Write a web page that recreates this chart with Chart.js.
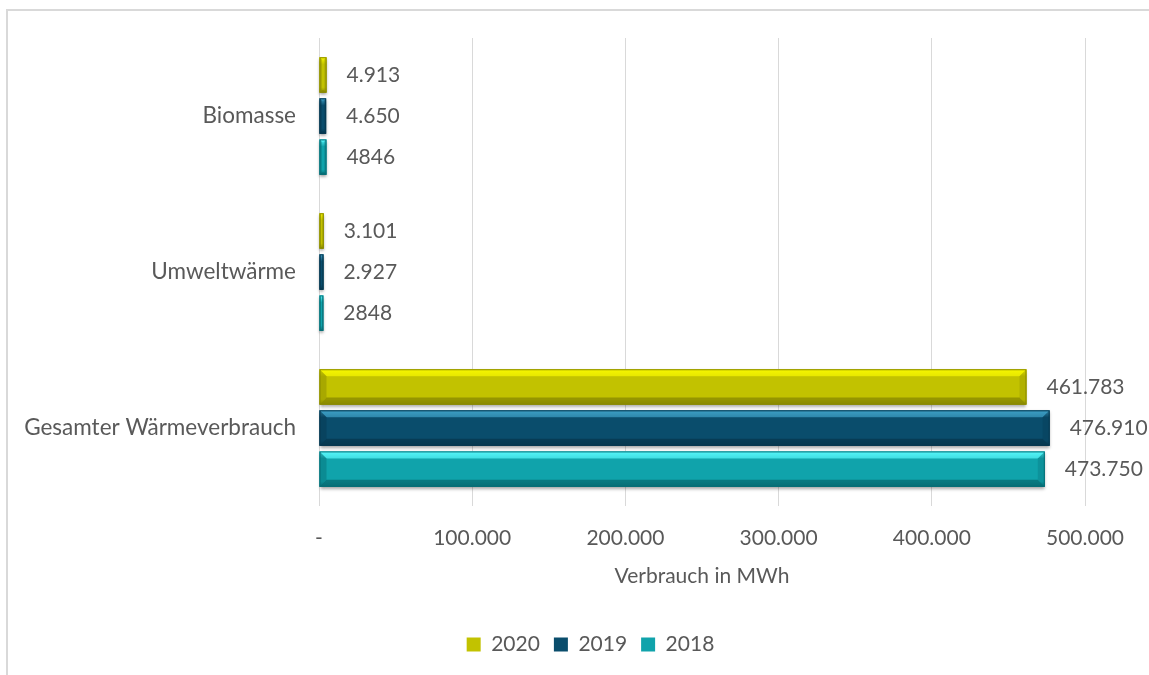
<!DOCTYPE html>
<html lang="de">
<head>
<meta charset="utf-8">
<title>Wärmeverbrauch</title>
<script src="https://cdn.jsdelivr.net/npm/chart.js@4"></script>
<style>
  html, body { margin: 0; padding: 0; background: #fff; }
  .chart-box { position: relative; width: 1149px; height: 675px; }
</style>
</head>
<body>
<div class="chart-box"><canvas id="heatChart"></canvas></div>
<script>
// chart data
var categories = ['Biomasse', 'Umweltwärme', 'Gesamter Wärmeverbrauch'];
var years = ['2020', '2019', '2018'];
var values2020 = [4913, 3101, 461783];
var values2019 = [4650, 2927, 476910];
var values2018 = [4846, 2848, 473750];
var labels2020 = ['4.913', '3.101', '461.783'];
var labels2019 = ['4.650', '2.927', '476.910'];
var labels2018 = ['4846', '2848', '473.750'];
var xTicks = [0, 100000, 200000, 300000, 400000, 500000];
var xTickLabels = ['-', '100.000', '200.000', '300.000', '400.000', '500.000'];
var axisTitle = 'Verbrauch in MWh';

var textColor = '#595959';
var fontFamily = 'Lato, "Open Sans", sans-serif';

// base / light / dark shade for the bevel look
var palette = [
  { base: '#c2c200', light: '#f6f600', dark: '#8a8a00' },
  { base: '#0a4d6c', light: '#3d9fc6', dark: '#063850' },
  { base: '#10a3ab', light: '#55f6fa', dark: '#076e76' }
];
var dataLabels = [labels2020, labels2019, labels2018];

// light grey frame round the chart
var framePlugin = {
  id: 'frame',
  beforeDraw: function(chart) {
    var ctx = chart.ctx;
    ctx.save();
    ctx.strokeStyle = '#d9d9d9';
    ctx.lineWidth = 2;
    ctx.strokeRect(7, 10, 1300, 800);
    ctx.restore();
  }
};

// legend sits a bit right of the canvas centre
var legendShift = {
  id: 'legendShift',
  afterLayout: function(chart) {
    chart.legend.left += 48;
    chart.legend.right += 48;
  }
};

// repaint each bar with a bevel
var bevelPlugin = {
  id: 'bevel',
  afterDatasetDraw: function(chart, args) {
    var ctx = chart.ctx;
    var pal = palette[args.index];
    args.meta.data.forEach(function(bar) {
      var p = bar.getProps(['x', 'y', 'base', 'height'], true);
      var x0 = Math.min(p.base, p.x), x1 = Math.max(p.base, p.x);
      var y0 = p.y - p.height / 2, y1 = p.y + p.height / 2;
      var w = x1 - x0, h = y1 - y0;
      var b = Math.min(7, w / 3, h / 3);

      ctx.save();
      ctx.shadowColor = 'rgba(0,0,0,0.35)';
      ctx.shadowBlur = 3;
      ctx.shadowOffsetY = 2;
      var g = ctx.createLinearGradient(0, y0, 0, y1);
      g.addColorStop(0, pal.light);
      g.addColorStop(0.2, pal.base);
      g.addColorStop(0.85, pal.base);
      g.addColorStop(1, pal.dark);
      ctx.fillStyle = g;
      ctx.fillRect(x0, y0, w, h);
      ctx.restore();

      ctx.save();
      // top edge
      ctx.fillStyle = pal.light;
      ctx.globalAlpha = 0.7;
      ctx.beginPath();
      ctx.moveTo(x0, y0); ctx.lineTo(x1, y0); ctx.lineTo(x1 - b, y0 + b); ctx.lineTo(x0 + b, y0 + b);
      ctx.closePath(); ctx.fill();
      // bottom edge
      ctx.fillStyle = pal.dark;
      ctx.globalAlpha = 0.8;
      ctx.beginPath();
      ctx.moveTo(x0, y1); ctx.lineTo(x1, y1); ctx.lineTo(x1 - b, y1 - b); ctx.lineTo(x0 + b, y1 - b);
      ctx.closePath(); ctx.fill();
      // left edge
      ctx.globalAlpha = 0.45;
      ctx.beginPath();
      ctx.moveTo(x0, y0); ctx.lineTo(x0 + b, y0 + b); ctx.lineTo(x0 + b, y1 - b); ctx.lineTo(x0, y1);
      ctx.closePath(); ctx.fill();
      // right edge
      ctx.globalAlpha = 0.3;
      ctx.beginPath();
      ctx.moveTo(x1, y0); ctx.lineTo(x1 - b, y0 + b); ctx.lineTo(x1 - b, y1 - b); ctx.lineTo(x1, y1);
      ctx.closePath(); ctx.fill();
      ctx.globalAlpha = 1;
      ctx.strokeStyle = pal.dark;
      ctx.lineWidth = 1;
      ctx.strokeRect(x0 + 0.5, y0 + 0.5, w - 1, h - 1);
      ctx.restore();
    });
  }
};

// value labels right of each bar
var valueLabelPlugin = {
  id: 'valueLabels',
  afterDatasetsDraw: function(chart) {
    var ctx = chart.ctx;
    ctx.save();
    ctx.font = '21px ' + fontFamily;
    ctx.fillStyle = textColor;
    ctx.textAlign = 'left';
    ctx.textBaseline = 'middle';
    chart.data.datasets.forEach(function(ds, i) {
      chart.getDatasetMeta(i).data.forEach(function(bar, j) {
        ctx.fillText(dataLabels[i][j], bar.x + 20, bar.y);
      });
    });
    ctx.restore();
  }
};

window.onload = function() {
  var ctx = document.getElementById('heatChart').getContext('2d');
  var heatChart = new Chart(ctx, {
    type: 'bar',
    data: {
      labels: categories,
      datasets: [
        { label: years[0], data: values2020, backgroundColor: palette[0].base },
        { label: years[1], data: values2019, backgroundColor: palette[1].base },
        { label: years[2], data: values2018, backgroundColor: palette[2].base }
      ]
    },
    options: {
      indexAxis: 'y',
      responsive: true,
      maintainAspectRatio: false,
      animation: false,
      categoryPercentage: 0.79,
      barPercentage: 0.86,
      borderWidth: 0,
      layout: { padding: { top: 38, right: 64, bottom: 10, left: 0 } },
      plugins: {
        tooltip: { enabled: false },
        legend: {
          position: 'bottom',
          labels: {
            boxWidth: 14,
            boxHeight: 14,
            padding: 14,
            color: textColor,
            font: { family: fontFamily, size: 21 }
          }
        }
      },
      scales: {
        x: {
          min: 0,
          max: 500000,
          afterBuildTicks: function(scale) {
            scale.ticks = xTicks.map(function(v) { return { value: v }; });
          },
          afterFit: function(scale) { scale.height = 114; },
          grid: { color: '#d9d9d9', lineWidth: 1, drawTicks: false },
          border: { display: false },
          ticks: {
            padding: 20,
            color: textColor,
            font: { family: fontFamily, size: 21 },
            callback: function(value) {
              var i = xTicks.indexOf(value);
              return i >= 0 ? xTickLabels[i] : '';
            }
          },
          title: {
            display: true,
            text: axisTitle,
            color: textColor,
            font: { family: fontFamily, size: 21 },
            padding: { top: 0, bottom: 31 }
          }
        },
        y: {
          afterFit: function(scale) { scale.width = 319; },
          grid: { display: false },
          border: { display: false },
          ticks: {
            padding: 15,
            color: textColor,
            font: { family: fontFamily, size: 22.5 }
          }
        }
      }
    },
    plugins: [framePlugin, legendShift, bevelPlugin, valueLabelPlugin]
  });
};
</script>
</body>
</html>
